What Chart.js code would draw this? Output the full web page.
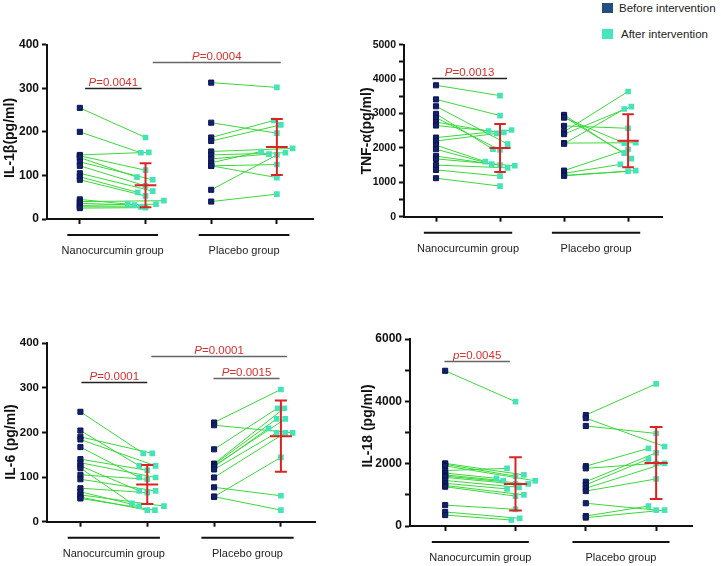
<!DOCTYPE html>
<html>
<head>
<meta charset="utf-8">
<script src="https://cdn.jsdelivr.net/npm/chart.js@4.4.1/dist/chart.umd.min.js"></script>
<style>
  body { margin: 0; background: #fff; width: 721px; height: 566px; position: relative; overflow: hidden;
         font-family: 'Liberation Sans', Arial, sans-serif; }
  canvas { position: absolute; }
  .lg { position: absolute; font-size: 11.5px; color: #222; line-height: 12px; }
  .sq { position: absolute; width: 11px; height: 10px; }
</style>
</head>
<body>
<div class="sq" style="left:602px;top:3px;background:#234f7f"></div>
<div class="lg" style="left:619px;top:2px">Before intervention</div>
<div class="sq" style="left:602px;top:29px;background:#45e6be"></div>
<div class="lg" style="left:621px;top:28px">After intervention</div>

<canvas id="c1" width="340" height="240" style="left:0;top:30px"></canvas>
<canvas id="c2" width="340" height="240" style="left:360px;top:30px"></canvas>
<canvas id="c3" width="340" height="246" style="left:0;top:320px"></canvas>
<canvas id="c4" width="361" height="246" style="left:360px;top:320px"></canvas>

<script>
// ---- data ----
const groups = ['Nanocurcumin group', 'Placebo group'];

// IL-1β (pg/ml)
const il1NanoBefore = [255, 200, 147, 145, 141, 131, 122, 105, 97, 90, 45, 40, 36, 31, 28, 25];
const il1NanoAfter  = [187, 152, 153, 112, 96, 90, 76, 64, 61, 53, 34, 42, 32, 34, 28, 26];
const il1NanoJitter = [0, -0.07, 0.05, 0, -0.13, 0.11, 0, 0.11, -0.12, 0, -0.27, 0.28, -0.17, 0.16, -0.07, 0];
const il1PlacBefore = [313, 221, 187, 179, 155, 147, 138, 129, 122, 122, 67, 40];
const il1PlacAfter  = [302, 197, 226, 216, 162, 152, 149, 155, 125, 95, 147, 57];
const il1PlacJitter = [0, 0, -0.05, 0.06, 0.24, 0.13, -0.12, -0.24, 0, 0, 0, 0];
const il1Pvalues = ['0.0041', '0.0004'];

// TNF-α (pg/ml)
const tnfNanoBefore = [3820, 3410, 3210, 2990, 2880, 2750, 2650, 2300, 2200, 2080, 1960, 1760, 1680, 1500, 1360, 1120];
const tnfNanoAfter  = [3520, 2940, 2110, 1960, 1940, 2490, 2450, 2520, 2420, 1600, 1530, 1500, 1480, 1420, 1180, 890];
const tnfNanoJitter = [0, 0, 0.12, -0.11, 0, -0.18, 0.06, 0.18, -0.05, -0.23, -0.13, 0, 0.23, 0.12, 0, 0];
const tnfPlacBefore = [2960, 2900, 2880, 2640, 2470, 2400, 2140, 2120, 1340, 1260, 1200, 1190];
const tnfPlacAfter  = [1690, 1850, 2140, 2570, 3640, 3200, 2150, 3130, 1960, 1520, 1340, 1320];
const tnfPlacJitter = [0.05, -0.06, -0.06, 0, 0, 0.05, 0.12, -0.06, 0, -0.12, 0.12, 0];
const tnfPvalues = ['0.0013'];

// IL-6 (pg/ml)
const il6NanoBefore = [246, 204, 190, 184, 167, 140, 132, 125, 120, 105, 95, 75, 67, 60, 55, 52];
const il6NanoAfter  = [153, 125, 153, 125, 99, 115, 99, 69, 41, 95, 69, 65, 35, 35, 26, 26];
const il6NanoJitter = [-0.06, -0.12, 0.075, 0.125, -0.12, 0, 0.125, -0.12, -0.23, 0, 0.125, 0, -0.12, 0.25, 0, 0.115];
const il6PlacBefore = [222, 216, 162, 130, 128, 125, 123, 117, 99, 77, 56, 56];
const il6PlacAfter  = [296, 199, 254, 254, 230, 230, 209, 199, 199, 58, 144, 26];
const il6PlacJitter = [0, 0.175, -0.05, 0.05, -0.065, 0.065, -0.185, -0.065, 0.065, 0, 0, 0];
const il6Pvalues = ['0.0001', '0.0001', '0.0015'];

// IL-18 (pg/ml)
const il18NanoBefore = [4980, 2010, 1980, 1930, 1780, 1700, 1640, 1600, 1560, 1460, 1370, 1300, 1260, 670, 450, 350];
const il18NanoAfter  = [3990, 1640, 1600, 1450, 1850, 1530, 1455, 1350, 1350, 1240, 1190, 1000, 960, 535, 246, 193];
const il18NanoJitter = [0, 0.12, 0, 0.28, -0.12, -0.27, -0.175, 0.18, 0, 0.05, -0.12, 0.12, 0, 0, 0.06, -0.06];
const il18PlacBefore = [3560, 3460, 3210, 1920, 1850, 1420, 1320, 1210, 1120, 730, 320, 270];
const il18PlacAfter  = [4560, 2550, 2970, 2490, 2010, 2350, 2150, 2010, 1510, 510, 640, 510];
const il18PlacJitter = [0, 0.12, 0, -0.11, 0, 0, -0.11, 0.12, 0, 0, -0.11, 0.12];
const il18Pvalues = ['0.0045'];

// ---- styling ----
const FONT = "'Liberation Sans', Arial, sans-serif";
const INK = '#111';
const BEFORE_COL = '#13206e';
const AFTER_COL = '#45e3b8';
const PAIR_COL = '#3bd83b';
const RED = '#dc2323';
const PRED = '#d63030';

function mean(a) { return a.reduce((s, v) => s + v, 0) / a.length; }
function sd(a) {
  const m = mean(a);
  return Math.sqrt(a.reduce((s, v) => s + (v - m) * (v - m), 0) / (a.length - 1));
}

// draws pair lines, mean±SD bars, p brackets, group labels and y title
function panelPlugin(cfg) {
  return {
    id: 'panel',
    beforeDatasetsDraw(chart) {
      const { ctx, scales: { x, y } } = chart;
      ctx.save();
      ctx.strokeStyle = PAIR_COL;
      ctx.lineWidth = 1;
      cfg.sets.forEach(s => {
        s.before.forEach((b, i) => {
          ctx.beginPath();
          ctx.moveTo(x.getPixelForValue(s.x0), y.getPixelForValue(b));
          ctx.lineTo(x.getPixelForValue(s.x0 + 1 + s.jitter[i]), y.getPixelForValue(s.after[i]));
          ctx.stroke();
        });
      });
      ctx.restore();
    },
    afterDatasetsDraw(chart) {
      const { ctx, scales: { x, y } } = chart;
      const unit = x.getPixelForValue(1) - x.getPixelForValue(0);
      ctx.save();
      ctx.strokeStyle = RED;
      ctx.lineWidth = 2;
      cfg.sets.forEach(s => {
        const m = mean(s.after), d = sd(s.after);
        const cx = x.getPixelForValue(s.x0 + 1);
        const yt = y.getPixelForValue(m + d), yb = y.getPixelForValue(m - d), ym = y.getPixelForValue(m);
        const w = 0.165 * unit, c = 0.09 * unit;
        ctx.beginPath();
        ctx.moveTo(cx, yt); ctx.lineTo(cx, yb);
        ctx.moveTo(cx - w, ym); ctx.lineTo(cx + w, ym);
        ctx.moveTo(cx - c, yt); ctx.lineTo(cx + c, yt);
        ctx.moveTo(cx - c, yb); ctx.lineTo(cx + c, yb);
        ctx.stroke();
      });
      ctx.restore();
    },
    afterDraw(chart) {
      const { ctx, chartArea, scales: { x, y } } = chart;
      ctx.save();
      // significance brackets
      cfg.brackets.forEach(b => {
        const x1 = x.getPixelForValue(b.from), x2 = x.getPixelForValue(b.to);
        const yy = Math.round(y.getPixelForValue(b.y)) + 0.5;
        ctx.strokeStyle = b.dark ? '#222' : '#666';
        ctx.lineWidth = 1.3;
        ctx.beginPath(); ctx.moveTo(x1, yy); ctx.lineTo(x2, yy); ctx.stroke();
        const italic = 'italic 11.5px ' + FONT, plain = '11.5px ' + FONT;
        ctx.font = italic;
        const w1 = ctx.measureText(b.sym).width;
        ctx.font = plain;
        const rest = '=' + b.p;
        const w2 = ctx.measureText(rest).width;
        let sx = (x1 + x2) / 2 - (w1 + w2) / 2;
        ctx.fillStyle = PRED;
        ctx.textBaseline = 'middle';
        ctx.textAlign = 'left';
        ctx.font = italic; ctx.fillText(b.sym, sx, yy - 6);
        ctx.font = plain; ctx.fillText(rest, sx + w1, yy - 6);
      });
      // group underlines and labels
      ctx.strokeStyle = INK;
      ctx.fillStyle = '#222';
      ctx.lineWidth = 2;
      ctx.font = '11px ' + FONT;
      ctx.textAlign = 'center';
      ctx.textBaseline = 'middle';
      groups.forEach((g, i) => {
        const c = 2 * i + 0.5;
        const ly = chartArea.bottom + 16;
        ctx.beginPath();
        ctx.moveTo(x.getPixelForValue(c - 0.69), ly);
        ctx.lineTo(x.getPixelForValue(c + 0.69), ly);
        ctx.stroke();
        ctx.fillText(g, x.getPixelForValue(c), chartArea.bottom + 32);
      });
      // y title
      ctx.translate(cfg.titleX, cfg.titleY);
      ctx.rotate(-Math.PI / 2);
      ctx.font = 'bold 14px ' + FONT;
      ctx.fillStyle = INK;
      ctx.fillText(cfg.title, 0, 0);
      ctx.restore();
    }
  };
}

function makePanel(id, cfg) {
  const canvas = document.getElementById(id);
  const datasets = [];
  cfg.sets.forEach(s => {
    datasets.push({
      data: s.before.map(v => ({ x: s.x0, y: v })),
      backgroundColor: BEFORE_COL, borderColor: '#0b1352', borderWidth: 1,
      pointStyle: 'rect', pointRadius: 3.6
    });
    datasets.push({
      data: s.after.map((v, i) => ({ x: s.x0 + 1 + s.jitter[i], y: v })),
      backgroundColor: AFTER_COL, borderWidth: 0,
      pointStyle: 'rect', pointRadius: 4
    });
  });
  return new Chart(canvas, {
    type: 'scatter',
    data: { datasets },
    options: {
      responsive: false,
      devicePixelRatio: 1,
      animation: false,
      layout: { padding: { left: 0, top: cfg.padTop, right: cfg.padRight, bottom: 0 } },
      plugins: { legend: { display: false }, tooltip: { enabled: false } },
      scales: {
        x: {
          type: 'linear', min: -0.5, max: cfg.xMax,
          border: { display: true, color: INK, width: 2 },
          grid: { drawOnChartArea: false, tickLength: 5, tickColor: INK, tickWidth: 2 },
          ticks: { callback: () => '' },
          afterBuildTicks: s => { s.ticks = [0, 1, 2, 3].map(v => ({ value: v })); },
          afterFit: s => { s.height = cfg.xHeight; }
        },
        y: {
          min: 0, max: cfg.yMax,
          border: { display: true, color: INK, width: 2 },
          grid: { drawOnChartArea: false, tickLength: 5, tickColor: INK, tickWidth: 2 },
          ticks: {
            stepSize: cfg.yStep, padding: 3, color: INK,
            font: { family: FONT, size: cfg.tickSize, weight: 'bold' },
            callback: v => (v % cfg.yLabelStep === 0 ? v : '')
          },
          afterFit: s => { s.width = cfg.yWidth; }
        }
      }
    },
    plugins: [panelPlugin(cfg)]
  });
}

makePanel('c1', {
  title: 'IL-1β(pg/ml)', titleX: 10, titleY: 108,
  yMax: 400, yStep: 100, yLabelStep: 100, tickSize: 12,
  yWidth: 47, padTop: 14.7, padRight: 27, xHeight: 51, xMax: 3.55,
  sets: [
    { x0: 0, before: il1NanoBefore, after: il1NanoAfter, jitter: il1NanoJitter },
    { x0: 2, before: il1PlacBefore, after: il1PlacAfter, jitter: il1PlacJitter }
  ],
  brackets: [
    { from: 0.08, to: 0.94, y: 300, sym: 'P', p: il1Pvalues[0], dark: true },
    { from: 1.11, to: 3.06, y: 360, sym: 'P', p: il1Pvalues[1] }
  ]
});

makePanel('c2', {
  title: 'TNF-α(pg/ml)', titleX: 7, titleY: 101,
  yMax: 5000, yStep: 500, yLabelStep: 1000, tickSize: 10.5,
  yWidth: 44, padTop: 14.7, padRight: 38, xHeight: 53.3, xMax: 3.53,
  sets: [
    { x0: 0, before: tnfNanoBefore, after: tnfNanoAfter, jitter: tnfNanoJitter },
    { x0: 2, before: tnfPlacBefore, after: tnfPlacAfter, jitter: tnfPlacJitter }
  ],
  brackets: [
    { from: -0.06, to: 1.11, y: 4030, sym: 'P', p: tnfPvalues[0], dark: true }
  ]
});

makePanel('c3', {
  title: 'IL-6 (pg/ml)', titleX: 11, titleY: 122,
  yMax: 400, yStep: 100, yLabelStep: 100, tickSize: 11.5,
  yWidth: 47, padTop: 23, padRight: 25, xHeight: 44.3, xMax: 3.51,
  sets: [
    { x0: 0, before: il6NanoBefore, after: il6NanoAfter, jitter: il6NanoJitter },
    { x0: 2, before: il6PlacBefore, after: il6PlacAfter, jitter: il6PlacJitter }
  ],
  brackets: [
    { from: 0.015, to: 1.0, y: 312, sym: 'P', p: il6Pvalues[0], dark: true },
    { from: 1.06, to: 3.09, y: 371, sym: 'P', p: il6Pvalues[1] },
    { from: 1.99, to: 2.98, y: 322, sym: 'P', p: il6Pvalues[2] }
  ]
});

makePanel('c4', {
  title: 'IL-18 (pg/ml)', titleX: 8, titleY: 106,
  yMax: 6000, yStep: 1000, yLabelStep: 2000, tickSize: 12,
  yWidth: 50, padTop: 19, padRight: 29, xHeight: 40, xMax: 3.51,
  sets: [
    { x0: 0, before: il18NanoBefore, after: il18NanoAfter, jitter: il18NanoJitter },
    { x0: 2, before: il18PlacBefore, after: il18PlacAfter, jitter: il18PlacJitter }
  ],
  brackets: [
    { from: -0.01, to: 0.92, y: 5295, sym: 'p', p: il18Pvalues[0] }
  ]
});
</script>
</body>
</html>
